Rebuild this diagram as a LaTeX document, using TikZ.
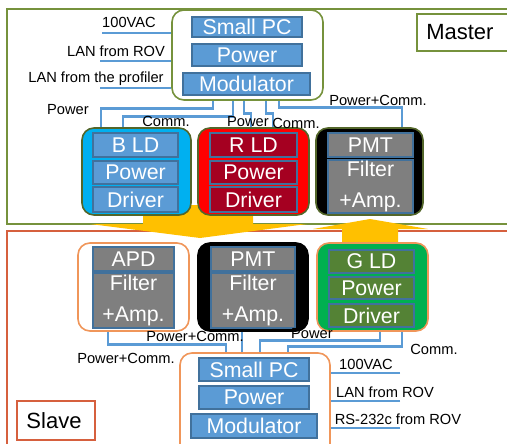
\documentclass[tikz,border=0pt]{standalone}
\usepackage{fontspec}
\setmainfont{Liberation Sans}
\definecolor{frameM}{RGB}{118,146,60}
\definecolor{frameS}{RGB}{214,96,62}
\definecolor{edgeS}{RGB}{240,150,90}
\definecolor{wireC}{RGB}{91,155,213}
\definecolor{cellB}{RGB}{91,155,213}
\definecolor{cellE}{RGB}{65,113,156}
\definecolor{cyanB}{RGB}{0,176,240}
\definecolor{redB}{RGB}{255,0,0}
\definecolor{redC}{RGB}{165,0,33}
\definecolor{greenB}{RGB}{0,176,80}
\definecolor{greenC}{RGB}{84,130,53}
\definecolor{grayC}{RGB}{127,127,127}
\definecolor{arrowY}{RGB}{255,192,0}

\tikzset{
  wire/.style={draw=wireC, line width=2.2pt},
  sz/.style 2 args={minimum width=#1*0.75pt, minimum height=#2*0.75pt},
  unit/.style={rounded corners=9pt, line width=1.2pt, inner sep=0pt},
  cell/.style={draw=cellE, line width=0.8pt, text=white, inner sep=0pt,
    font=\fontsize{16}{23}\selectfont, align=center},
  big/.style={font=\fontsize{16.5}{18}\selectfont, inner sep=0pt},
  lbl/.style={font=\fontsize{11}{12}\selectfont, inner sep=0pt},
}

\begin{document}
\begin{tikzpicture}[x=0.75pt,y=-0.75pt]
\useasboundingbox (0,0) rectangle (507,443);
\fill[white] (0,0) rectangle (507,443);

% frames
\draw[frameM, line width=1.5pt] (7,9) rectangle (520,224);
\draw[frameS, line width=1.5pt] (7,231) rectangle (520,460);
\node[draw=frameM, line width=1.2pt, sz={104}{37}, anchor=north west] (mbox) at (416,13) {};
\node[big, anchor=west] (mlab) at ([xshift=7.5pt]mbox.west) {Master};
\node[draw=frameS, line width=1.2pt, sz={78}{39}] (sbox) at (56,420.5) {};
\node[big, anchor=west] (slab) at ([xshift=7.5pt]sbox.west) {Slave};

% yellow arrows
\fill[arrowY] (143,205) -- (253,205) -- (253,224) -- (307,224) -- (200,238) -- (90,224) -- (143,224) -- cycle;
\fill[arrowY] (370,219) -- (428,229) -- (398,229) -- (398,250) -- (342,250) -- (342,229) -- (313,229) -- cycle;

% master hub
\node[unit, draw=frameM, fill=white, sz={151}{90}] (hubM) at (247.5,55) {};
\node[cell, fill=cellB, sz={110}{20}] (pcM) at (247,27) {Small PC};
\node[cell, fill=cellB, sz={110}{22}] (pwM) at (247,55) {Power};
\node[cell, fill=cellB, sz={127}{22}] (modM) at (246.5,84) {Modulator};

% master row
\node[unit, draw=frameM!70!black, fill=cyanB, sz={109}{87}] (bld) at (136.5,171.5) {};
\node[cell, fill=cellB, sz={85}{24}] (bldA) at (135.5,145) {B LD};
\node[cell, fill=cellB, sz={85}{23}] (bldB) at (135.5,172.5) {Power};
\node[cell, fill=cellB, sz={85}{25}] (bldC) at (135.5,199.5) {Driver};

\node[unit, draw=frameM!70!black, fill=redB, sz={111}{87}] (rld) at (253.5,171.5) {};
\node[cell, fill=redC, sz={87}{24}] (rldA) at (253.5,145) {R LD};
\node[cell, fill=redC, sz={87}{23}] (rldB) at (253.5,172.5) {Power};
\node[cell, fill=redC, sz={87}{25}] (rldC) at (253.5,199.5) {Driver};

\node[unit, draw=frameM!70!black, fill=black, sz={107}{87}] (pmtM) at (369.5,171.5) {};
\node[cell, fill=grayC, sz={85}{24}] (pmtMA) at (370.5,145) {PMT};
\node[cell, fill=grayC, sz={85}{53}] (pmtMB) at (370.5,186.5) {Filter\\+Amp.};

% slave row
\node[unit, draw=edgeS, fill=white, sz={111}{88}] (apd) at (133.5,287) {};
\node[cell, fill=grayC, sz={81}{24}] (apdA) at (133.5,259) {APD};
\node[cell, fill=grayC, sz={81}{55}] (apdB) at (133.5,300.5) {Filter\\+Amp.};

\node[unit, draw=black, fill=black, sz={110}{88}] (pmtS) at (253,287) {};
\node[cell, fill=grayC, sz={84}{24}] (pmtSA) at (253,259) {PMT};
\node[cell, fill=grayC, sz={84}{55}] (pmtSB) at (253,300.5) {Filter\\+Amp.};

\node[unit, draw=edgeS, fill=greenB, sz={111}{88}] (gld) at (372.5,287) {};
\node[cell, fill=greenC, sz={85}{23}] (gldA) at (371.5,261.5) {G LD};
\node[cell, fill=greenC, sz={85}{22}] (gldB) at (371.5,288) {Power};
\node[cell, fill=greenC, sz={85}{23}] (gldC) at (371.5,315.5) {Driver};

% slave hub
\node[unit, draw=edgeS, fill=white, sz={150}{110}] (hubS) at (255,408) {};
\node[cell, fill=cellB, sz={110}{23}] (pcS) at (254,369.5) {Small PC};
\node[cell, fill=cellB, sz={110}{23}] (pwS) at (254,397.5) {Power};
\node[cell, fill=cellB, sz={126}{24}] (modS) at (254,426) {Modulator};

% master wiring
\draw[wire] (hubM.south -| 213,0) -- ++(0,8) -| (bld.north -| 101,0);
\draw[wire] (hubM.south -| 233,0) -- ++(0,16) -| (bld.north -| 123,0);
\draw[wire] (hubM.south -| 244,0) -- ++(0,13) -- ++(7,0) -- (rld.north -| 251,0);
\draw[wire] (hubM.south -| 266,0) -- ++(0,13) -- ++(7,0) -- (rld.north -| 273,0);
\draw[wire] (hubM.south -| 279,0) -- ++(0,7) -| (pmtM.north -| 402,0);

\coordinate (acM) at (102,33);
\coordinate (lanM) at (100,61);
\coordinate (prfM) at (100,88);
\draw[wire] (acM) -- (acM -| hubM.west);
\draw[wire] (lanM) -- (lanM -| hubM.west);
\draw[wire] (prfM) -- (prfM -| hubM.west);

% slave wiring
\draw[wire] (apd.south -| 108,0) -- ++(0,13) -| (hubS.north -| 226,0);
\draw[wire] (pmtS.south -| 242,0) -- (hubS.north -| 242,0);
\draw[wire] (gld.south -| 380,0) -- ++(0,9) -| (hubS.north -| 260,0);
\draw[wire] (gld.south -| 402,0) -- ++(0,15) -| (hubS.north -| 288,0);

\coordinate (acS) at (400,373);
\coordinate (lanS) at (400,401);
\coordinate (rsS) at (400,428);
\draw[wire] (acS) -- (acS -| hubS.east);
\draw[wire] (lanS) -- (lanS -| hubS.east);
\draw[wire] (rsS) -- (rsS -| hubS.east);

% labels
\node[lbl] (acMl) at (129,22) {100VAC};
\node[lbl] (lanMl) at (116,51) {LAN from ROV};
\node[lbl] (prfMl) at (96,79) {LAN from the profiler};
\node[lbl] (pwrBl) at (68,110) {Power};
\node[lbl] (comBl) at (166,121) {Comm.};
\node[lbl] (pwrRl) at (248,122) {Power};
\node[lbl] (comRl) at (296,123) {Comm.};
\node[lbl] (pcPl) at (378,100) {Power+Comm.};

\node[lbl] (pcAl) at (126,358) {Power+Comm.};
\node[lbl] (pcSl) at (195,336) {Power+Comm.};
\node[lbl] (pwrGl) at (312,334) {Power};
\node[lbl] (comGl) at (434,349) {Comm.};
\node[lbl] (acSl) at (366,364) {100VAC};
\node[lbl] (lanSl) at (385,392) {LAN from ROV};
\node[lbl] (rsSl) at (398,419) {RS-232c from ROV};
\end{tikzpicture}
\end{document}
